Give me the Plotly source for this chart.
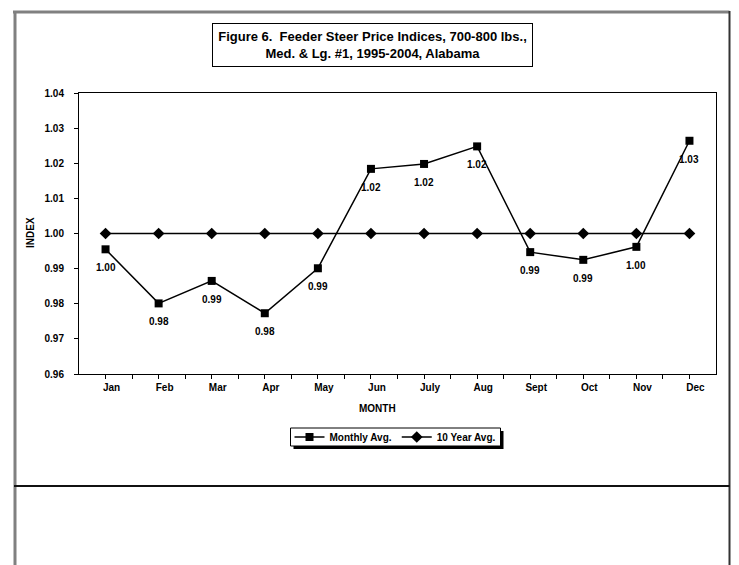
import plotly.graph_objects as go

months = ["Jan", "Feb", "Mar", "Apr", "May", "Jun", "July", "Aug", "Sept", "Oct", "Nov", "Dec"]
monthly_avg = [0.9955, 0.9801, 0.9865, 0.9773, 0.9901, 1.0184, 1.0198, 1.0248, 0.9947, 0.9925, 0.9962, 1.0264]
ten_year_avg = [1.00, 1.00, 1.00, 1.00, 1.00, 1.00, 1.00, 1.00, 1.00, 1.00, 1.00, 1.00]
y_ticks = [0.96, 0.97, 0.98, 0.99, 1.00, 1.01, 1.02, 1.03, 1.04]

OFF = 8                            # browser body margin
W, H = 739 - OFF, 565 - OFF        # figure size
L, R, T, B = 79, 716, 93, 374      # plot area in page pixels
FONT = "Liberation Sans, Arial, sans-serif"


def px(x):
    return (x - L) / (R - L)


def py(y):
    return (B - y) / (B - T)


x_idx = list(range(len(months)))

fig = go.Figure()
fig.add_trace(go.Scatter(
    x=x_idx, y=monthly_avg, name="Monthly Avg.",
    mode="lines+markers",
    line=dict(color="black", width=1.5),
    marker=dict(symbol="square", size=8, color="black"),
))
fig.add_trace(go.Scatter(
    x=x_idx, y=ten_year_avg, name="10 Year Avg.",
    mode="lines+markers",
    line=dict(color="black", width=1.5),
    marker=dict(symbol="diamond", size=9, color="black"),
))

# legend box geometry (page px)
LEG_CX, LEG_W, LEG_T, LEG_B = 395.5, 210, 428, 446
RIGHT_EDGE = 729.5  # rightmost visible column

shapes = [
    # page / chart-area frame
    dict(type="line", xref="paper", yref="paper", x0=px(13), x1=px(RIGHT_EDGE), y0=py(12), y1=py(12),
         line=dict(color="#808080", width=3)),
    dict(type="line", xref="paper", yref="paper", x0=px(15), x1=px(15), y0=py(11), y1=py(570),
         line=dict(color="#808080", width=3)),
    dict(type="line", xref="paper", yref="paper", x0=px(RIGHT_EDGE), x1=px(RIGHT_EDGE), y0=py(11), y1=py(570),
         line=dict(color="#333333", width=2)),
    dict(type="line", xref="paper", yref="paper", x0=px(14), x1=px(RIGHT_EDGE), y0=py(486), y1=py(486),
         line=dict(color="#111111", width=2)),
    # legend shadow and box
    dict(type="rect", xref="paper", yref="paper",
         x0=px(LEG_CX - LEG_W / 2 + 3), x1=px(LEG_CX + LEG_W / 2 + 3), y0=py(LEG_T + 3), y1=py(LEG_B + 3),
         fillcolor="black", line=dict(width=0)),
    dict(type="rect", xref="paper", yref="paper",
         x0=px(LEG_CX - LEG_W / 2), x1=px(LEG_CX + LEG_W / 2), y0=py(LEG_T), y1=py(LEG_B),
         fillcolor="white", line=dict(color="black", width=1)),
]

annotations = [
    dict(xref="paper", yref="paper", x=px(372), y=py(45), xanchor="center", yanchor="middle",
         text="Figure 6.  Feeder Steer Price Indices, 700-800 lbs.,<br>Med. & Lg. #1, 1995-2004, Alabama",
         showarrow=False, align="center", width=317, height=40,
         bordercolor="black", borderwidth=1, bgcolor="white",
         font=dict(family=FONT, size=13, color="black", weight="bold")),
    dict(xref="paper", yref="paper", x=px(30), y=py(233), xanchor="center", yanchor="middle",
         text="INDEX", textangle=-90, showarrow=False,
         font=dict(family=FONT, size=10, color="black", weight="bold")),
    dict(xref="paper", yref="paper", x=px(377), y=py(408), xanchor="center", yanchor="middle",
         text="MONTH", showarrow=False,
         font=dict(family=FONT, size=10, color="black", weight="bold")),
]
# data labels below the monthly points
for xi, v in zip(x_idx, monthly_avg):
    annotations.append(dict(
        xref="x", yref="y", x=xi, y=v, text=f"{v:.2f}", showarrow=False,
        xanchor="center", yanchor="top", yshift=-11,
        font=dict(family=FONT, size=10, color="black", weight="bold"),
    ))

fig.update_layout(
    width=W, height=H,
    margin=dict(l=L - OFF, r=W - (R - OFF), t=T - OFF, b=H - (B - OFF), pad=0),
    paper_bgcolor="white", plot_bgcolor="white",
    font=dict(family=FONT, size=10, color="black", weight="bold"),
    showlegend=True,
    legend=dict(
        orientation="h", x=px(LEG_CX), y=py((LEG_T + LEG_B) / 2), xanchor="center", yanchor="middle",
        bgcolor="rgba(0,0,0,0)", borderwidth=0,
        font=dict(family=FONT, size=10, color="black", weight="bold"),
        itemwidth=30, tracegroupgap=0,
    ),
    shapes=shapes,
    annotations=annotations,
    xaxis=dict(
        range=[-0.5, len(months) - 0.5], tickvals=x_idx, ticktext=months,
        showgrid=False, zeroline=False, showline=True, linecolor="black", linewidth=1, mirror=True,
        ticks="outside", ticklen=4, tickcolor="black", ticklabelshift=6, ticklabelstandoff=0,
        minor=dict(tickvals=[i + 0.5 for i in x_idx[:-1]], ticks="outside", ticklen=4, tickcolor="black"),
        tickfont=dict(family=FONT, size=10, color="black", weight="bold"),
        fixedrange=True,
    ),
    yaxis=dict(
        range=[y_ticks[0], y_ticks[-1]], tickvals=y_ticks, tickformat=".2f",
        showgrid=False, zeroline=False, showline=True, linecolor="black", linewidth=1, mirror=True,
        ticks="outside", ticklen=4, tickcolor="black", ticklabelstandoff=8,
        tickfont=dict(family=FONT, size=10, color="black", weight="bold"),
        fixedrange=True,
    ),
)

fig.write_html("out.html")
